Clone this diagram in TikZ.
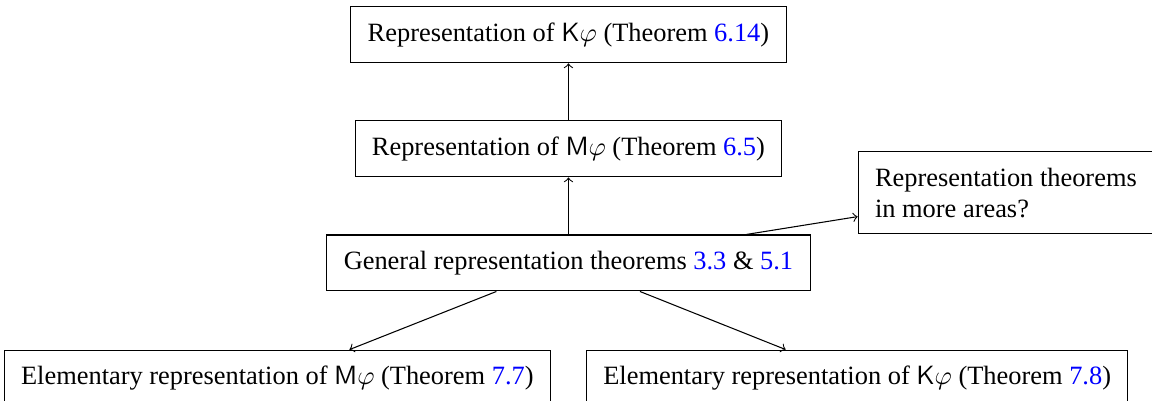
\documentclass[tikz,border=0pt]{standalone}
\usepackage{fontspec}
\setmainfont{Liberation Serif}
\usetikzlibrary{positioning}

\begin{document}
\begin{tikzpicture}[
  node distance=21.6pt and 17.8pt,
  box/.style={draw,align=center,inner xsep=6.4pt,inner ysep=5pt,minimum height=21.2pt},
  note/.style={draw,align=left,inner xsep=6.4pt,inner ysep=6pt},
  arrow/.style={->,thin}
]
\node[box] (gen) {General representation theorems \textcolor{blue}{3.3} \& \textcolor{blue}{5.1}};
\node[box,above=of gen] (mrep) {Representation of $\mathsf{M}\varphi$ (Theorem \textcolor{blue}{6.5})};
\node[box,above=of mrep] (krep) {Representation of $\mathsf{K}\varphi$ (Theorem \textcolor{blue}{6.14})};
\node[note,above right=0pt and 17.8pt of gen] (more) {Representation theorems\\in more areas?};
\node[box,below left=22pt and 6.6pt of gen.south] (elm) {Elementary representation of $\mathsf{M}\varphi$ (Theorem \textcolor{blue}{7.7})};
\node[box,below right=22pt and 6.6pt of gen.south] (elk) {Elementary representation of $\mathsf{K}\varphi$ (Theorem \textcolor{blue}{7.8})};
\draw[arrow] (gen) -- (mrep);
\draw[arrow] (mrep) -- (krep);
\draw[arrow] (gen) -- (more);
\draw[arrow] (gen) -- (elm);
\draw[arrow] (gen) -- (elk);
% frame of the page
\pgfresetboundingbox
\useasboundingbox ([shift={(-215.3pt,99.6pt)}]gen.center) rectangle ([shift={(221pt,-51.9pt)}]gen.center);
\end{tikzpicture}
\end{document}
